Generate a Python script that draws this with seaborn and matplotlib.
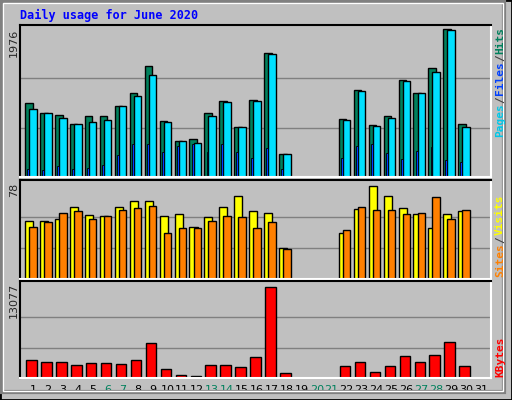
import matplotlib
matplotlib.use("Agg")
import matplotlib.pyplot as plt
import numpy as np
import pandas as pd
import seaborn as sns

# daily figures for June 2020 (days 19-21 and 31: no data)
days = list(range(1, 32))
hits = [983, 849, 823, 702, 809, 809, 943, 1118, 1480, 742, 487, 501, 849, 1010, 662, 1028,
        1659, 313, 0, 0, 0, 773, 1162, 688, 809, 1292, 1118, 1453, 1976, 702, 0]
files = [903, 849, 782, 702, 729, 756, 943, 1077, 1359, 729, 487, 460, 809, 997, 662, 1010,
         1645, 313, 0, 0, 0, 756, 1144, 675, 782, 1279, 1118, 1399, 1963, 662, 0]
pages = [112, 98, 152, 112, 125, 165, 300, 447, 434, 340, 420, 447, 340, 434, 340, 259,
         393, 112, 0, 0, 0, 259, 420, 434, 326, 246, 353, 407, 232, 206, 0]
visits = [48.4, 48.4, 50, 60, 53.5, 52.7, 60, 65, 65, 52.7, 54.3, 44, 51.8, 60, 70, 57,
          55, 25.6, 0, 0, 0, 39, 58.6, 78, 69.5, 59.4, 54.3, 42.5, 54.3, 57, 0]
sites = [44, 47.6, 55, 57, 50, 52.7, 57.7, 59.4, 61, 39, 42.5, 42.5, 48.4, 52.7, 51.8, 42.5,
         47.6, 24.8, 0, 0, 0, 40.8, 60, 57.7, 57.7, 54.3, 55, 68.7, 50, 57.7, 0]
kbytes = [2625, 2339, 2339, 1909, 2195, 2195, 2052, 2625, 5059, 1336, 477, 334, 1909, 1909,
          1623, 3055, 13077, 764, 0, 0, 0, 1766, 2339, 907, 1766, 3198, 2339, 3341, 5202, 1766, 0]
weekend = [6, 7, 13, 14, 20, 21, 27, 28]

BG = "#C0C0C0"
sns.set_style("white", {"axes.facecolor": BG, "figure.facecolor": BG})
plt.rcParams["font.family"] = ["DejaVu Sans Mono"]

fig = plt.figure(figsize=(5.12, 4.0), dpi=100)
W, H = 512, 400

# beveled frame
fig.patches.append(plt.Rectangle((0, 0), 1, 1, transform=fig.transFigure, fill=False,
                                 ec="black", lw=2))
fig.patches.append(plt.Rectangle((2 / W, 8 / H), 1 - 10 / W, 1 - 10 / H, transform=fig.transFigure,
                                 fill=False, ec="#808080", lw=3))
fig.patches.append(plt.Rectangle((3 / W, 9 / H), 1 - 12 / W, 1 - 12 / H, transform=fig.transFigure,
                                 fill=False, ec="white", lw=1))


def make_ax(top, bottom):
    ax = fig.add_axes([20 / W, 1 - bottom / H, 471 / W, (bottom - top) / H])
    ax.set_xlim(0.13, 31.67)
    for s in ["left", "top"]:
        ax.spines[s].set_color("black")
    for s in ["right", "bottom"]:
        ax.spines[s].set_color("white")
    for sp in ax.spines.values():
        sp.set_linewidth(1.5)
    ax.set_xticks([])
    ax.set_yticks([])
    return ax


d = np.array(days)
kw = dict(align="edge", edgecolor="black", linewidth=1)

ax1 = make_ax(25, 177)
ymax1 = 1976 * 152 / 148
ax1.set_ylim(0, ymax1)
for g in (1976 / 3, 1976 * 2 / 3):
    ax1.axhline(g, color="#808080", lw=1, zorder=0)
ax1.bar(d - 0.52, hits, width=0.5, color="#00805C", **kw)
ax1.bar(d - 0.25, files, width=0.5, color="#00E0FF", **kw)
ax1.bar(d - 0.38, pages, width=0.13, color="#0040FF", edgecolor="black", linewidth=0.6,
        align="edge")

ax2 = make_ax(180, 279)
ax2.set_ylim(0, 78 * 99 / 93)
for g in (26, 52):
    ax2.axhline(g, color="#808080", lw=1, zorder=0)
ax2.bar(d - 0.52, visits, width=0.54, color="#FFFF00", **kw)
ax2.bar(d - 0.25, sites, width=0.5, color="#FF8000", **kw)

ax3 = make_ax(281, 378)
ax3.set_ylim(0, 13077 * 97 / 91)
for g in (13077 / 3, 13077 * 2 / 3):
    ax3.axhline(g, color="#808080", lw=1, zorder=0)
df = pd.DataFrame({"day": d - 0.1, "kbytes": kbytes})
sns.barplot(data=df, x="day", y="kbytes", native_scale=True, width=0.7, color="#FF0000",
            saturation=1, edgecolor="black", linewidth=1, ax=ax3)
ax3.set_xlim(0.13, 31.67)
ax3.set_xlabel("")
ax3.set_ylabel("")
ax3.set_xticks([])
ax3.set_yticks([])

# day labels
for day in days:
    c = "#00805C" if day in weekend else "black"
    ax3.text(day, -0.12, str(day), transform=ax3.get_xaxis_transform(), ha="center",
             va="center", fontsize=8, color=c, family="DejaVu Sans")

fig.text(20 / W, 1 - 15 / H, "Daily usage for June 2020", color="#0000FF", fontsize=8.5,
         fontweight="bold", va="center")

# left max labels
for y, t in [(29, "1976"), (183, "78"), (283, "13077")]:
    fig.text(14 / W, 1 - y / H, t, rotation=90, ha="center", va="top", fontsize=8,
             family="DejaVu Sans")


def right_label(y_bottom, parts):
    y = y_bottom
    for txt, col in parts:
        t = fig.text(500 / W, 1 - y / H, txt, rotation=90, ha="center", va="bottom",
                     fontsize=8, color=col, fontweight="bold")
        y -= len(txt) * 6.6 + 1


right_label(137, [("Pages", "#00C8E8"), ("/", "#404040"), ("Files", "#0040FF"),
                  ("/", "#404040"), ("Hits", "#00805C")])
right_label(277, [("Sites", "#FF8000"), ("/", "#404040"), ("Visits", "#FFFF00")])
right_label(377, [("KBytes", "#FF0000")])

fig.savefig("out.png", dpi=100, facecolor=BG)
